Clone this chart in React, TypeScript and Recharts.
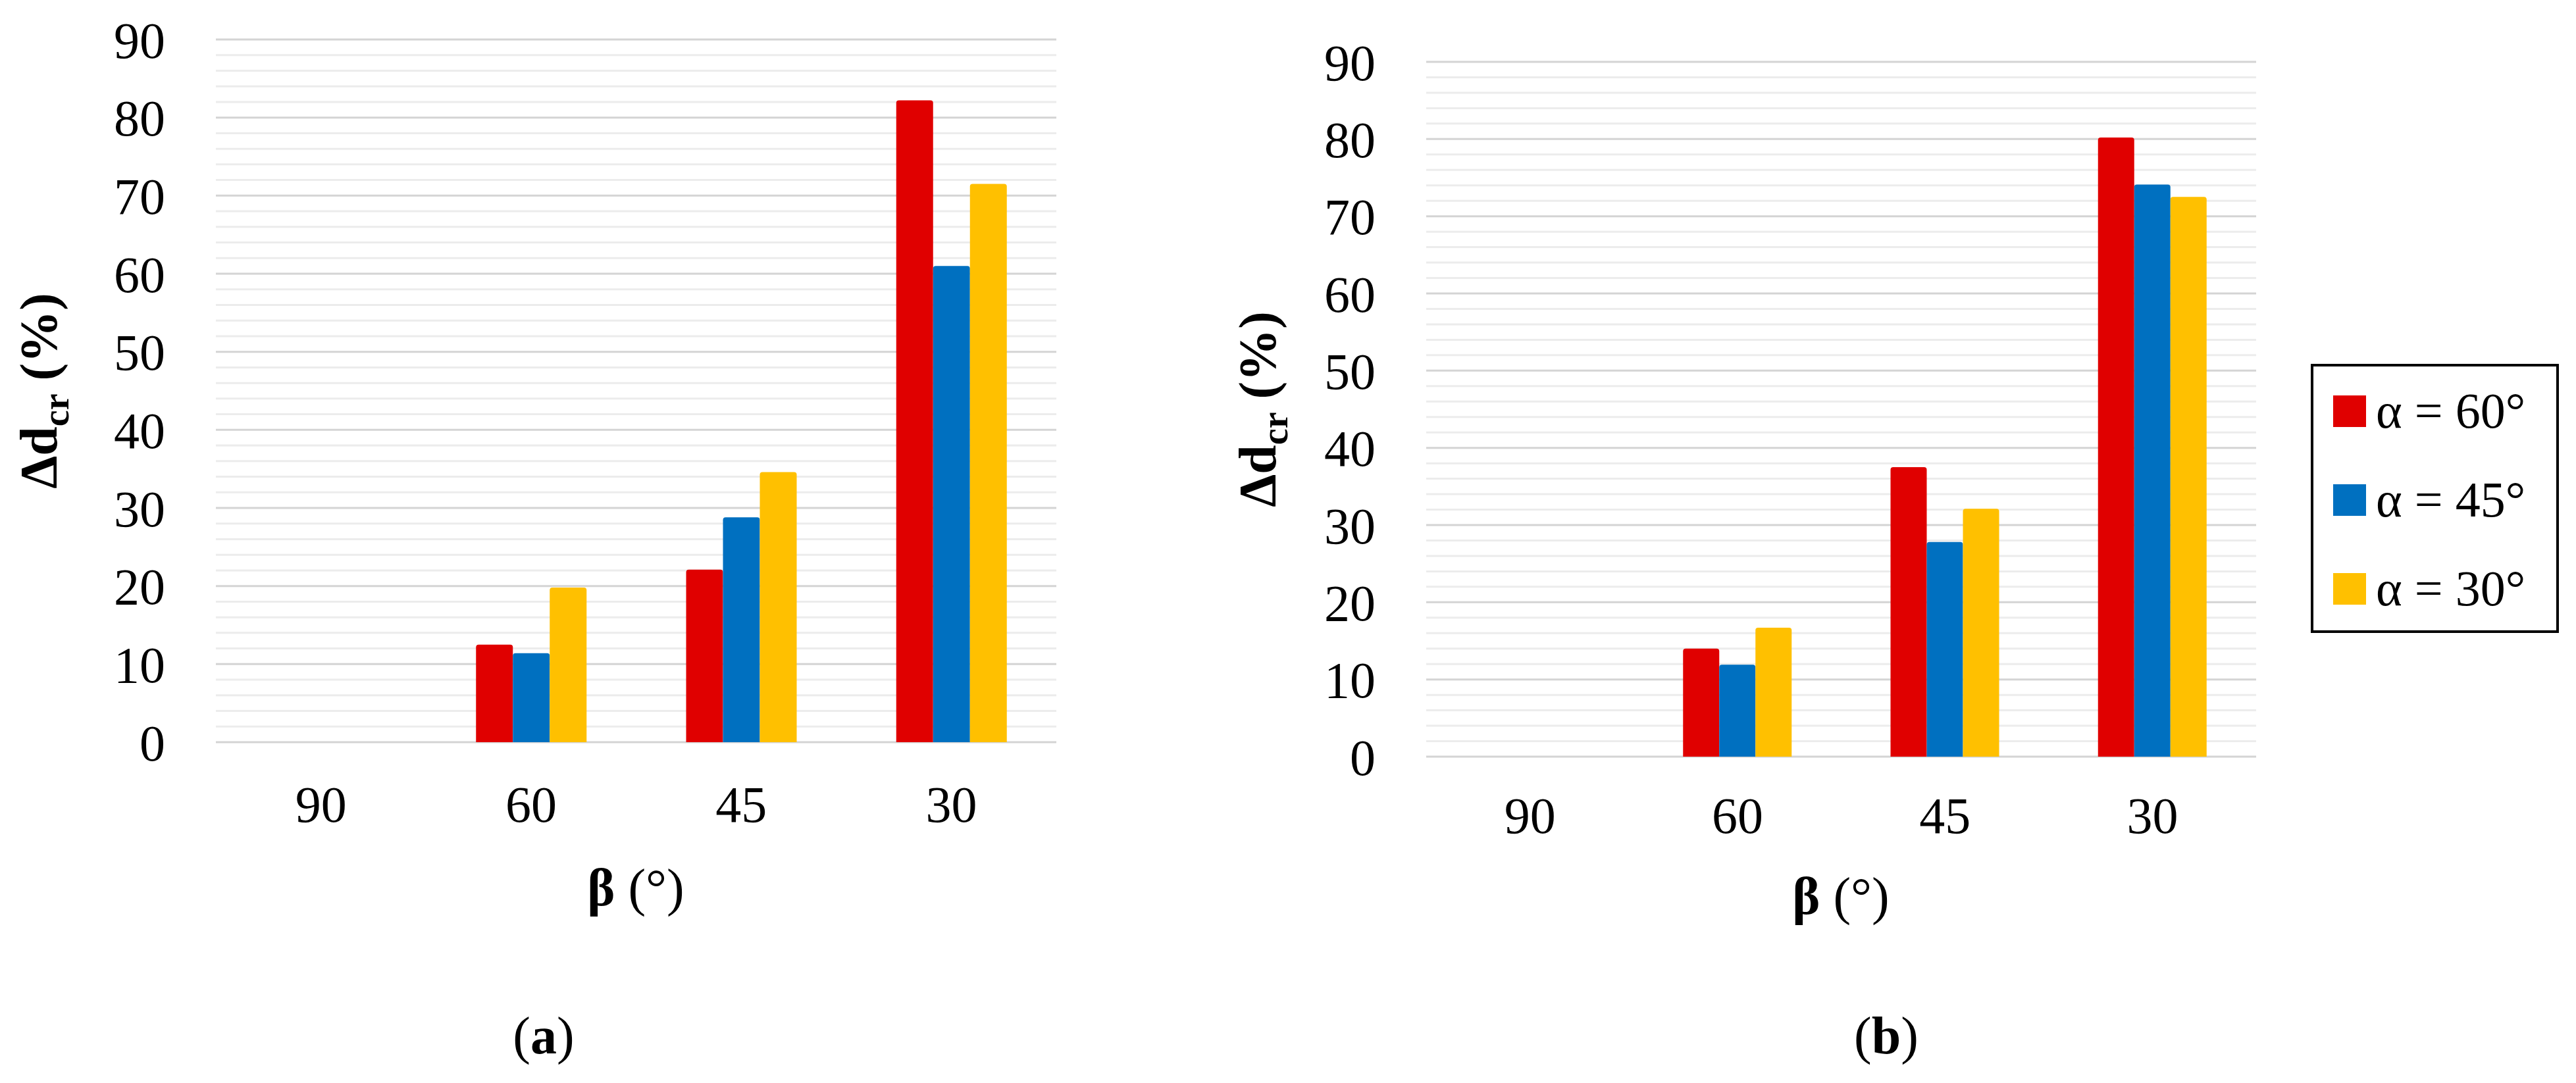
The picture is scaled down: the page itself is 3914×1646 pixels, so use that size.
import { Bar, BarChart, CartesianGrid, Legend, XAxis, YAxis } from 'recharts'

const categories = ['90', '60', '45', '30']
const seriesNames = ['α = 60°', 'α = 45°', 'α = 30°']
const seriesColors = ['#E00000', '#0070C0', '#FFC000']

// panel (a)
const a60 = [0, 12.5, 22.1, 82.2]
const a45 = [0, 11.4, 28.8, 61.0]
const a30 = [0, 19.8, 34.6, 71.5]

// panel (b)
const b60 = [0, 14.0, 37.5, 80.2]
const b45 = [0, 11.9, 27.8, 74.1]
const b30 = [0, 16.7, 32.1, 72.5]

const yTicks = [0, 10, 20, 30, 40, 50, 60, 70, 80, 90]
const minorSteps = [2, 4, 6, 8]
const minorTicks = yTicks.flatMap((t) => minorSteps.map((s) => t + s)).filter((v) => v < 90)

const serif = "'Liberation Serif', 'Times New Roman', serif"

const buildRows = (s60: number[], s45: number[], s30: number[]) =>
  categories.map((beta, i) => ({ beta, s60: s60[i], s45: s45[i], s30: s30[i] }))

const dataA = buildRows(a60, a45, a30)
const dataB = buildRows(b60, b45, b30)

function YTitle({ x, y }: { x: number; y: number }) {
  return (
    <text
      x={x}
      y={y}
      transform={`rotate(-90 ${x} ${y})`}
      textAnchor="middle"
      fontFamily={serif}
      fontSize={80}
      fontWeight="bold"
      fill="#000">
      <tspan>Δd</tspan>
      <tspan fontSize={56} dy={18}>
        cr
      </tspan>
      <tspan dy={-18}> (%)</tspan>
    </text>
  )
}

function XTitle({ x, y, capX, capY, letter }: { x: number; y: number; capX: number; capY: number; letter: string }) {
  return (
    <g>
      <text x={x} y={y} textAnchor="middle" fontFamily={serif} fontSize={80} fill="#000">
        <tspan fontWeight="bold">β</tspan>
        <tspan> (°)</tspan>
      </text>
      <text x={capX} y={capY} textAnchor="middle" fontFamily={serif} fontSize={80} fill="#000">
        <tspan>(</tspan>
        <tspan fontWeight="bold">{letter}</tspan>
        <tspan>)</tspan>
      </text>
    </g>
  )
}

function LegendBox({ payload }: any) {
  // keep the series order, whatever order the legend payload comes in
  const items = seriesNames.map((name, i) => {
    const hit = (payload || []).find((p: any) => p.value === name)
    return { value: name, color: hit ? hit.color : seriesColors[i] }
  })
  return (
    <div
      style={{
        width: 377,
        height: 409,
        boxSizing: 'border-box',
        border: '4px solid #000',
        background: '#fff',
        display: 'flex',
        flexDirection: 'column'
      }}>
      {items.map((entry) => (
        <div key={entry.value} style={{ height: 135, display: 'flex', alignItems: 'center' }}>
          <div style={{ width: 50, height: 48, marginLeft: 30, marginRight: 15, background: entry.color }} />
          <span style={{ fontFamily: serif, fontSize: 76, lineHeight: '135px', color: '#000', whiteSpace: 'nowrap' }}>
            {entry.value}
          </span>
        </div>
      ))}
    </div>
  )
}

const tickStyle = { fontFamily: serif, fontSize: 78, fill: '#000' }

export default function App() {
  return (
    <div style={{ position: 'absolute', left: 0, top: 0, width: 3914, height: 1646, background: '#fff' }}>
      <div style={{ position: 'absolute', left: 0, top: 0 }}>
        <BarChart
          width={1700}
          height={1646}
          data={dataA}
          barGap={0}
          barSize={56}
          margin={{ top: 60, right: 95, left: 28, bottom: 398 }}>
          <CartesianGrid vertical={false} horizontalValues={minorTicks} stroke="#ececec" strokeWidth={3} />
          <CartesianGrid vertical={false} horizontalValues={yTicks} stroke="#d4d4d4" strokeWidth={3} />
          <XAxis
            dataKey="beta"
            height={120}
            interval={0}
            tickLine={false}
            axisLine={false}
            tickSize={0}
            tickMargin={66}
            tick={tickStyle}
            label={{ content: () => <XTitle x={966} y={1376} capX={826} capY={1601} letter="a" /> }}
          />
          <YAxis
            width={300}
            domain={[0, 90]}
            ticks={yTicks}
            interval={0}
            tickLine={false}
            axisLine={false}
            tickSize={0}
            tickMargin={77}
            tick={tickStyle}
            label={{ content: () => <YTitle x={86} y={594} /> }}
          />
          <Bar dataKey="s60" name={seriesNames[0]} fill={seriesColors[0]} radius={[4, 4, 0, 0]} isAnimationActive={false} />
          <Bar dataKey="s45" name={seriesNames[1]} fill={seriesColors[1]} radius={[4, 4, 0, 0]} isAnimationActive={false} />
          <Bar dataKey="s30" name={seriesNames[2]} fill={seriesColors[2]} radius={[4, 4, 0, 0]} isAnimationActive={false} />
        </BarChart>
      </div>
      <div style={{ position: 'absolute', left: 1750, top: 0 }}>
        <BarChart
          width={2164}
          height={1646}
          data={dataB}
          barGap={0}
          barSize={55}
          margin={{ top: 94, right: 486, left: 117, bottom: 376 }}>
          <CartesianGrid vertical={false} horizontalValues={minorTicks} stroke="#ececec" strokeWidth={3} />
          <CartesianGrid vertical={false} horizontalValues={yTicks} stroke="#d4d4d4" strokeWidth={3} />
          <XAxis
            dataKey="beta"
            height={120}
            interval={0}
            tickLine={false}
            axisLine={false}
            tickSize={0}
            tickMargin={61}
            tick={tickStyle}
            label={{ content: () => <XTitle x={1047} y={1389} capX={1116} capY={1601} letter="b" /> }}
          />
          <YAxis
            width={300}
            domain={[0, 90]}
            ticks={yTicks}
            interval={0}
            tickLine={false}
            axisLine={false}
            tickSize={0}
            tickMargin={77}
            tick={tickStyle}
            label={{ content: () => <YTitle x={188} y={622} /> }}
          />
          <Legend
            layout="horizontal"
            align="center"
            verticalAlign="middle"
            wrapperStyle={{ position: 'absolute', left: 1761, top: 553, width: 377, height: 409 }}
            content={LegendBox}
          />
          <Bar dataKey="s60" name={seriesNames[0]} fill={seriesColors[0]} radius={[4, 4, 0, 0]} isAnimationActive={false} />
          <Bar dataKey="s45" name={seriesNames[1]} fill={seriesColors[1]} radius={[4, 4, 0, 0]} isAnimationActive={false} />
          <Bar dataKey="s30" name={seriesNames[2]} fill={seriesColors[2]} radius={[4, 4, 0, 0]} isAnimationActive={false} />
        </BarChart>
      </div>
    </div>
  )
}
